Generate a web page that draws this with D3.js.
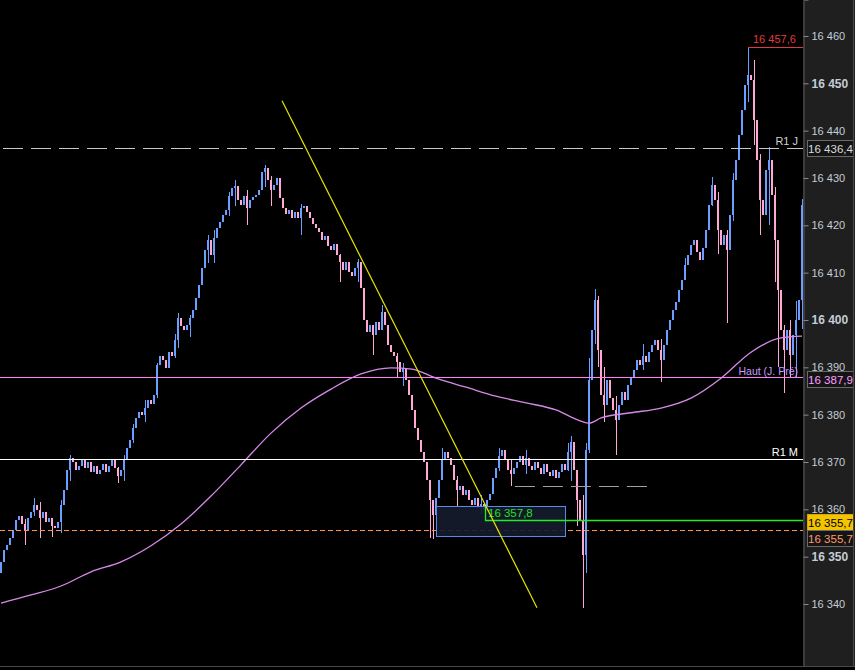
<!DOCTYPE html>
<html>
<head>
<meta charset="utf-8">
<script src="https://cdn.jsdelivr.net/npm/d3@7"></script>
<style>
  body { margin: 0; background: #000; }
  svg { display: block; font-family: "Liberation Sans", Arial, sans-serif; }
</style>
</head>
<body>
<div class="visholder"></div>
<script>
// price data (one close per candle, open = previous close)
const firstOpen = 16346.5;
const closes = [
  16348.9, 16351.4, 16352.5, 16354.0, 16355.6, 16357.7, 16358.6, 16356.9, 16355.6, 16358.2,
  16359.4, 16360.9, 16359.9, 16358.2, 16359.4, 16357.3, 16358.2, 16356.5, 16356.1, 16357.3,
  16360.9, 16364.1, 16368.3, 16370.8, 16370.0, 16368.3, 16369.2, 16370.4, 16368.7, 16370.0,
  16367.9, 16369.2, 16367.5, 16368.3, 16369.6, 16367.9, 16369.2, 16370.4, 16368.7, 16367.0,
  16368.3, 16370.4, 16372.9, 16374.6, 16377.2, 16379.3, 16380.6, 16379.9, 16381.4, 16383.1,
  16382.2, 16384.2, 16390.5, 16392.4, 16391.5, 16389.9, 16393.2, 16392.4, 16395.8, 16400.4,
  16398.7, 16397.9, 16398.9, 16400.4, 16402.1, 16404.6, 16407.4, 16411.0, 16414.8, 16416.9,
  16413.7, 16417.3, 16419.4, 16420.7, 16422.2, 16423.2, 16426.2, 16427.9, 16428.3, 16425.4,
  16424.3, 16426.2, 16423.7, 16425.4, 16426.0, 16426.4, 16427.5, 16431.3, 16432.1, 16429.6,
  16427.5, 16428.5, 16430.0, 16425.8, 16423.7, 16422.4, 16423.2, 16421.5, 16422.8, 16421.5,
  16423.7, 16424.1, 16422.8, 16421.5, 16420.3, 16419.4, 16418.6, 16416.9, 16417.7, 16415.6,
  16414.8, 16416.1, 16413.7, 16412.3, 16410.6, 16412.3, 16410.1, 16409.3, 16411.0, 16412.3,
  16406.8, 16400.0, 16397.5, 16399.0, 16396.8, 16399.6, 16397.9, 16401.7, 16399.0, 16394.7,
  16393.2, 16392.4, 16391.1, 16389.0, 16389.9, 16387.3, 16384.2, 16381.0, 16377.2, 16374.6,
  16372.1, 16370.0, 16366.2, 16362.0, 16358.8, 16362.4, 16366.2, 16370.4, 16372.1, 16370.8,
  16369.4, 16366.2, 16364.1, 16364.9, 16363.0, 16364.1, 16362.0, 16360.9, 16362.4, 16360.3,
  16361.1, 16359.9, 16362.0, 16363.3, 16366.6, 16368.7, 16371.3, 16372.5, 16370.4, 16368.3,
  16367.5, 16368.7, 16370.0, 16371.3, 16369.4, 16370.8, 16369.2, 16368.3, 16370.0, 16368.7,
  16367.5, 16369.6, 16367.9, 16367.0, 16368.3, 16366.6, 16367.9, 16369.6, 16368.3, 16372.1,
  16374.2, 16368.3, 16362.0, 16357.7, 16350.3, 16372.5, 16387.3, 16397.9, 16404.2, 16393.7,
  16384.2, 16382.0, 16387.3, 16383.5, 16381.0, 16378.9, 16382.0, 16384.8, 16383.1, 16386.3,
  16387.7, 16389.4, 16391.5, 16390.5, 16392.4, 16391.1, 16393.2, 16394.7, 16395.8, 16393.7,
  16391.5, 16394.7, 16397.9, 16400.0, 16402.1, 16403.8, 16406.4, 16408.5, 16411.6, 16413.7,
  16415.8, 16416.9, 16414.4, 16412.7, 16415.2, 16419.0, 16424.3, 16428.5, 16425.4, 16419.0,
  16415.8, 16418.0, 16414.8, 16422.2, 16429.6, 16433.8, 16439.1, 16444.4, 16449.6, 16451.8,
  16450.7, 16442.3, 16433.8, 16425.4, 16422.2, 16431.7, 16433.8, 16426.4, 16416.9, 16406.4,
  16397.9, 16393.7, 16397.9, 16392.6, 16396.8, 16400.0, 16404.2, 16424.3
];

// visible wicks: [candle index, high, low]
const wicks = [
  [8, 16358, 16352.5], [11, 16362.4, 16358.5], [13, 16361.5, 16354], [17, 16358, 16354.2],
  [20, 16362, 16355], [23, 16371.5, 16366], [39, 16369, 16365.5], [41, 16371.5, 16366],
  [44, 16378, 16374], [48, 16383, 16378.5], [52, 16391, 16383.5], [58, 16397, 16392],
  [59, 16401.5, 16394], [63, 16401, 16396.5], [69, 16418, 16412], [71, 16419, 16412],
  [76, 16427, 16422], [78, 16429.5, 16424], [82, 16427.5, 16420], [88, 16432.7, 16428],
  [90, 16430.5, 16424], [100, 16424.5, 16418], [113, 16414, 16408], [119, 16412.8, 16408],
  [124, 16398.5, 16392.5], [127, 16403.2, 16398], [132, 16393, 16388], [134, 16391, 16386],
  [143, 16366, 16354], [144, 16362, 16353.8], [147, 16373, 16368], [152, 16367, 16360.5],
  [160, 16363, 16359], [166, 16373, 16368], [170, 16370.5, 16365], [175, 16372.5, 16367.5],
  [189, 16374, 16368], [190, 16375.5, 16366], [192, 16366, 16356.5], [194, 16363, 16339.2],
  [195, 16374, 16346.5], [196, 16392, 16372], [198, 16406.5, 16395], [199, 16405, 16390],
  [201, 16390, 16378.5], [205, 16384, 16371.5], [214, 16395, 16389.5], [220, 16396, 16386.9],
  [228, 16413, 16409], [237, 16430.2, 16424], [239, 16427, 16414], [242, 16419, 16399.4],
  [244, 16431, 16421], [249, 16457.6, 16446], [251, 16455, 16437], [253, 16435, 16418],
  [256, 16436.5, 16420], [258, 16428, 16408], [259, 16417, 16390], [261, 16399, 16384.6],
  [263, 16400, 16388], [265, 16404, 16388], [267, 16425.5, 16398]
];

// moving average, read at a few candles
const maIndex = [0, 10, 20, 30, 40, 50, 60, 70, 80, 90, 100, 110, 120, 130, 137, 145, 155, 165,
  175, 185, 193, 196, 200, 210, 220, 230, 240, 250, 260, 267];
const maValues = [16340.2, 16341.9, 16343.8, 16346.8, 16348.9, 16352.3, 16356.9, 16362.8, 16369.4,
  16376.1, 16381.4, 16385.4, 16388.6, 16389.9, 16389.6, 16387.7, 16385.8, 16383.9, 16382.5,
  16381.0, 16378.7, 16378.2, 16379.3, 16380.4, 16381.4, 16383.5, 16387.7, 16393.2, 16396.2, 16396.6];

// levels
const levelR1J = 16436.4, levelHaut = 16387.9, levelR1M = 16370.7;
const levelGreen = 16357.8, levelOrange = 16355.7, levelGrey = 16364.9, topHigh = 16457.6;
const trendIdx = [93.67, 178.67], trendPrice = [16446.3, 16339.2];
const boxIdx = [145, 188], boxPrice = [16360.7, 16354.4];
const greenIdx = 161.33, greenTop = 16360.5;
const greyIdx = [171.33, 215.67];
const yTicks = d3.range(16340, 16461, 10);

const width = 855, height = 670, plotRight = 803, bottom = 666;

const loc = d3.formatLocale({ decimal: ",", thousands: " ", grouping: [3], currency: ["", ""] });
const fmtInt = loc.format(","), fmt1 = loc.format(",.1f");

const candles = closes.map((c, i) => {
  const o = i === 0 ? firstOpen : closes[i - 1];
  return { i: i, o: o, c: c, h: Math.max(o, c), l: Math.min(o, c) };
});
wicks.forEach(w => {
  const d = candles[w[0]];
  d.h = Math.max(d.h, w[1]);
  d.l = Math.min(d.l, w[2]);
});

const x = d3.scaleLinear().domain([0, closes.length - 1]).range([1, 1 + 3 * (closes.length - 1)]);
const y = d3.scaleLinear().domain([16326.9, 16467.6]).range([bottom, 0]);

const svg = d3.select(".visholder").append("svg")
  .attr("width", width).attr("height", height);

svg.append("rect").attr("width", width).attr("height", height).attr("fill", "#000");

// axis panel
svg.append("rect").attr("x", plotRight).attr("y", 0).attr("width", width - plotRight).attr("height", bottom)
  .attr("fill", "#1f1f1f");

const plot = svg.append("g");

// candles
const cg = plot.append("g").attr("shape-rendering", "crispEdges");
cg.selectAll(".wick").data(candles).enter().append("line")
  .attr("class", "wick")
  .attr("x1", d => x(d.i) + 0.5).attr("x2", d => x(d.i) + 0.5)
  .attr("y1", d => y(d.h)).attr("y2", d => y(d.l))
  .attr("stroke", d => d.c >= d.o ? "#6b9fff" : "#ffa8d4").attr("stroke-width", 1);
cg.selectAll(".body").data(candles).enter().append("rect")
  .attr("class", "body")
  .attr("x", d => x(d.i) - 1).attr("width", 2)
  .attr("y", d => y(Math.max(d.o, d.c)))
  .attr("height", d => Math.max(1, Math.abs(y(d.o) - y(d.c))))
  .attr("fill", d => d.c >= d.o ? "#6b9fff" : "#ffa8d4");

// moving average
plot.append("path")
  .datum(maIndex.map((k, j) => [k, maValues[j]]))
  .attr("fill", "none").attr("stroke", "#d58ae8").attr("stroke-width", 1.3)
  .attr("d", d3.line().x(d => x(d[0])).y(d => y(d[1])).curve(d3.curveMonotoneX));

// horizontal levels
plot.append("line").attr("x1", 0).attr("x2", plotRight).attr("y1", Math.round(y(levelR1J)) + 0.5).attr("y2", Math.round(y(levelR1J)) + 0.5)
  .attr("stroke", "#c8c8c8").attr("stroke-dasharray", "20,8").attr("stroke-dashoffset", -3);
plot.append("line").attr("x1", 0).attr("x2", plotRight).attr("y1", Math.round(y(levelHaut)) + 0.5).attr("y2", Math.round(y(levelHaut)) + 0.5)
  .attr("stroke", "#ff80f4");
plot.append("line").attr("x1", 0).attr("x2", plotRight).attr("y1", Math.round(y(levelR1M)) + 0.5).attr("y2", Math.round(y(levelR1M)) + 0.5)
  .attr("stroke", "#ffffff");
plot.append("line").attr("x1", x(greyIdx[0])).attr("x2", x(greyIdx[1])).attr("y1", Math.round(y(levelGrey)) + 0.5).attr("y2", Math.round(y(levelGrey)) + 0.5)
  .attr("stroke", "#a0a0a0").attr("stroke-dasharray", "20,8");
plot.append("line").attr("x1", 0).attr("x2", plotRight).attr("y1", Math.round(y(levelOrange)) + 0.5).attr("y2", Math.round(y(levelOrange)) + 0.5)
  .attr("stroke", "#ff9050").attr("stroke-dasharray", "5,3");

// box
plot.append("rect")
  .attr("x", x(boxIdx[0]) + 0.5).attr("y", Math.round(y(boxPrice[0])) + 0.5)
  .attr("width", x(boxIdx[1]) - x(boxIdx[0]))
  .attr("height", Math.round(y(boxPrice[1])) - Math.round(y(boxPrice[0])))
  .attr("fill", "#151b2c").attr("fill-opacity", 0.92).attr("stroke", "#5a8ae8");

// green level
plot.append("path")
  .attr("d", `M${x(greenIdx) + 0.5},${y(greenTop)}V${Math.round(y(levelGreen)) + 0.5}H${plotRight}`)
  .attr("fill", "none").attr("stroke", "#22ee22").attr("stroke-width", 1.3);
plot.append("text").attr("x", x(greenIdx) + 3).attr("y", y(levelGreen) - 3)
  .attr("fill", "#22e022").attr("font-size", 11.5).text(fmt1(levelGreen));

// top high marker
plot.append("line").attr("x1", x(249)).attr("x2", plotRight)
  .attr("y1", Math.round(y(topHigh)) + 0.5).attr("y2", Math.round(y(topHigh)) + 0.5)
  .attr("stroke", "#e03a3a");
plot.append("text").attr("x", 753).attr("y", y(topHigh) - 4)
  .attr("fill", "#e03a3a").attr("font-size", 11).text(fmt1(topHigh));

// trendline
plot.append("line")
  .attr("x1", x(trendIdx[0])).attr("y1", y(trendPrice[0]))
  .attr("x2", x(trendIdx[1])).attr("y2", y(trendPrice[1]))
  .attr("stroke", "#e6e600").attr("stroke-width", 1.2);

// level labels
const labels = [
  { t: "R1 J", v: levelR1J, c: "#d0d0d0", s: 11 },
  { t: "Haut (J. Pré)", v: levelHaut, c: "#c49cff", s: 10.5 },
  { t: "R1 M", v: levelR1M, c: "#ffffff", s: 11 }
];
plot.selectAll(".lvl").data(labels).enter().append("text")
  .attr("class", "lvl")
  .attr("x", 798).attr("y", d => y(d.v) - 2.5)
  .attr("text-anchor", "end").attr("fill", d => d.c).attr("font-size", d => d.s)
  .text(d => d.t);

// right axis
const yAxis = d3.axisRight(y).tickValues(yTicks).tickSize(5).tickFormat(fmtInt);
const ax = svg.append("g").attr("transform", `translate(${plotRight + 0.5},0)`).call(yAxis);
ax.select(".domain").attr("stroke", "#5a5a5a");
ax.selectAll(".tick line").attr("stroke", "#8a8a8a");
ax.selectAll(".tick text")
  .attr("x", 8).attr("fill", "#c4ccd6")
  .attr("font-family", "\"Liberation Sans\", Arial, sans-serif")
  .attr("font-size", d => d % 50 === 0 ? 12 : 11)
  .attr("font-weight", d => d % 50 === 0 ? "bold" : "normal");

// price badges
const badges = [
  { v: levelR1J, dy: 0, fill: "#141414", stroke: "#6a6a6a", text: "#dcdcdc" },
  { v: levelHaut, dy: 2, fill: "#141414", stroke: "#6a6a6a", text: "#ff9cff" },
  { v: levelGreen - 2.1, dy: -8, fill: "#f5c400", stroke: "#d4a800", text: "#000000", label: levelOrange },
  { v: levelOrange, dy: 8, fill: "#141414", stroke: "#6a6a6a", text: "#ff9a6a" }
];
const bg = svg.selectAll(".badge").data(badges).enter().append("g")
  .attr("class", "badge")
  .attr("transform", d => `translate(807,${Math.round(y(d.v) + d.dy)})`);
bg.append("rect").attr("x", 0.5).attr("y", -7.5).attr("width", 46).attr("height", 16)
  .attr("fill", d => d.fill).attr("stroke", d => d.stroke);
bg.append("text").attr("x", 23.5).attr("y", 4.5).attr("text-anchor", "middle")
  .attr("font-size", 11.5).attr("fill", d => d.text)
  .text(d => fmt1(d.label !== undefined ? d.label : d.v));

// frame lines
svg.append("line").attr("x1", 0).attr("x2", width).attr("y1", bottom + 0.5).attr("y2", bottom + 0.5).attr("stroke", "#4a4a4a");
svg.append("line").attr("x1", width - 1.5).attr("x2", width - 1.5).attr("y1", 0).attr("y2", bottom).attr("stroke", "#4a4a4a");
</script>
</body>
</html>
